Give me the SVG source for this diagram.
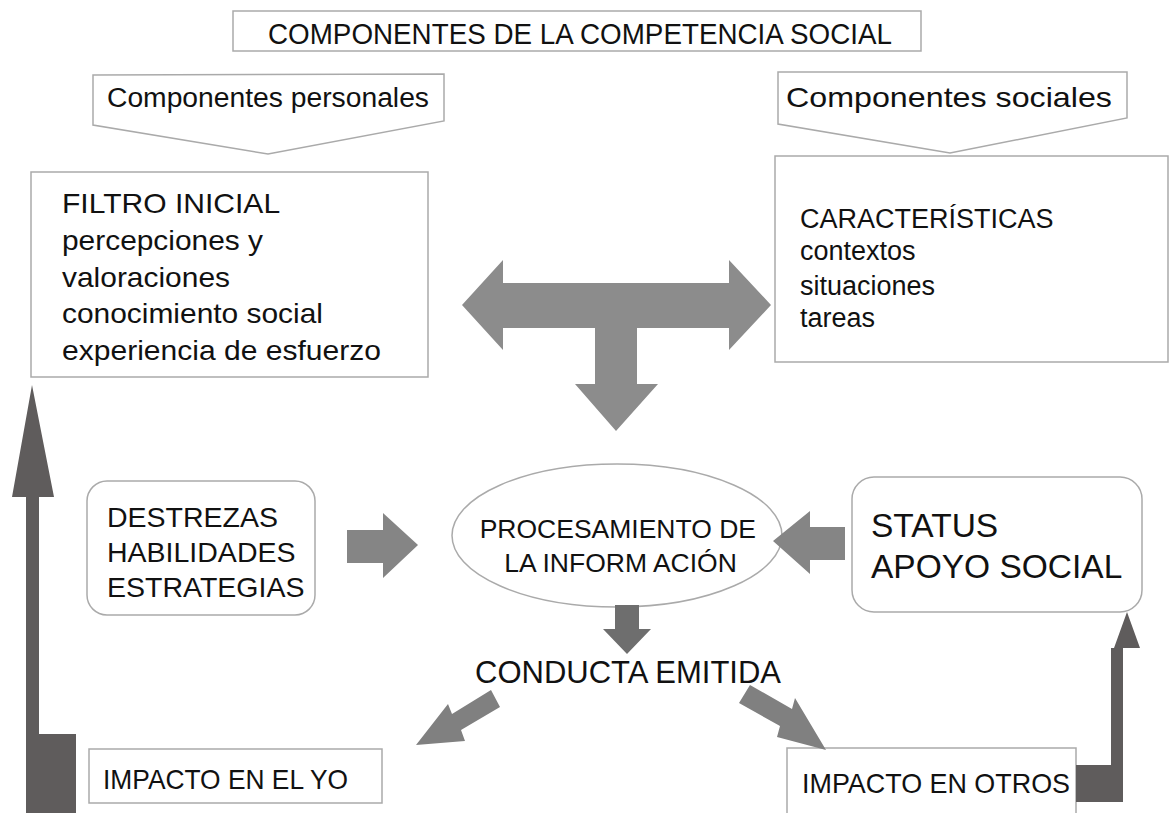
<svg xmlns="http://www.w3.org/2000/svg" width="1169" height="813" viewBox="0 0 1169 813">
<style>
.box{fill:#fff;stroke:#aaaaaa;stroke-width:1.5}
.t{font-family:"Liberation Sans",Arial,sans-serif;fill:#111}
.dark{fill:#5f5c5c}
.mid{fill:#6e6e6e}
.lite{fill:#8c8c8c}
.side{fill:#858585}
.diag{fill:#808080}
</style>
<rect width="1169" height="813" fill="#fff"/>
<g id="title">
<rect class="box" x="233" y="11" width="688" height="40"/>
<text class="t" x="268" y="44" font-size="29" textLength="624" lengthAdjust="spacingAndGlyphs">COMPONENTES DE LA COMPETENCIA SOCIAL</text>
</g>
<g id="componentes-personales">
<polygon class="box" points="93,75 444,74 444,121 268,154 93,125"/>
<text class="t" x="107" y="107" font-size="27" textLength="322" lengthAdjust="spacingAndGlyphs">Componentes personales</text>
</g>
<g id="componentes-sociales">
<polygon class="box" points="778,72 1127,72 1127,118 950,153 778,124"/>
<text class="t" x="786" y="107" font-size="28" textLength="326" lengthAdjust="spacingAndGlyphs">Componentes sociales</text>
</g>
<g id="filtro-inicial">
<rect class="box" x="31" y="172" width="397" height="205"/>
<text class="t" font-size="28.5">
<tspan x="62" y="213" textLength="217" lengthAdjust="spacingAndGlyphs">FILTRO INICIAL</tspan>
<tspan x="62" y="250" textLength="201" lengthAdjust="spacingAndGlyphs">percepciones y</tspan>
<tspan x="62" y="287" textLength="168" lengthAdjust="spacingAndGlyphs">valoraciones</tspan>
<tspan x="62" y="323" textLength="261" lengthAdjust="spacingAndGlyphs">conocimiento social</tspan>
<tspan x="62" y="360" textLength="319" lengthAdjust="spacingAndGlyphs">experiencia de esfuerzo</tspan>
</text>
</g>
<g id="caracteristicas">
<rect class="box" x="775" y="156" width="393" height="206"/>
<text class="t" font-size="27">
<tspan x="800" y="228">CARACTERÍSTICAS</tspan>
<tspan x="800" y="260">contextos</tspan>
<tspan x="800" y="295">situaciones</tspan>
<tspan x="800" y="327">tareas</tspan>
</text>
</g>
<g id="destrezas">
<rect class="box" x="87" y="481" width="228" height="134" rx="20"/>
<text class="t" font-size="28.5">
<tspan x="107" y="527">DESTREZAS</tspan>
<tspan x="107" y="562">HABILIDADES</tspan>
<tspan x="107" y="597">ESTRATEGIAS</tspan>
</text>
</g>
<g id="procesamiento">
<ellipse class="box" cx="617" cy="535.5" rx="165" ry="71.5"/>
<text class="t" font-size="26.5" text-anchor="middle">
<tspan x="621.5" y="538">PROCESAMIENTO DE</tspan>
<tspan x="620.5" y="572">LA INFORM ACIÓN</tspan>
</text>
</g>
<g id="status">
<rect class="box" x="852" y="477" width="290" height="135" rx="22"/>
<text class="t" font-size="33.5">
<tspan x="871" y="537">STATUS</tspan>
<tspan x="871" y="578">APOYO SOCIAL</tspan>
</text>
</g>
<g id="conducta">
<text class="t" x="475" y="683" font-size="31" textLength="306" lengthAdjust="spacingAndGlyphs">CONDUCTA EMITIDA</text>
</g>
<g id="impacto-yo">
<rect class="box" x="89" y="749" width="293" height="54"/>
<text class="t" x="103" y="789" font-size="28" textLength="245" lengthAdjust="spacingAndGlyphs">IMPACTO EN EL YO</text>
</g>
<g id="impacto-otros">
<rect class="box" x="787" y="748" width="289" height="70"/>
<text class="t" x="802" y="793" font-size="28" textLength="268" lengthAdjust="spacingAndGlyphs">IMPACTO EN OTROS</text>
</g>
<g id="connectors">
<polygon class="lite" points="462,305 503,260 503,283 729,283 729,260 771,305 729,350 729,328 637,328 637,384 658,384 616,431 575,384 595,384 595,328 503,328 503,350"/>
<polygon class="side" points="347,530 383,530 383,513 418,545 383,578 383,563 347,563"/>
<polygon class="side" points="845,527 810,527 810,511 773,541 810,574 810,560 845,560"/>
<polygon class="mid" points="615,605 639,605 639,629 651,629 627,654 603,629 615,629"/>
<polygon class="diag" points="491,690 452,714 448,704 416,745 465,741 461,730 500,707"/>
<polygon class="diag" points="750,685 792,709 795,698 826,750 777,737 780,726 739,703"/>
<polygon class="dark" points="26,813 26,497 12,497 32,385 54,497 39,497 39,734 76,734 76,813"/>
<polygon class="dark" points="1076,765 1111,765 1111,648 1114,648 1127,612 1140,648 1123,648 1123,802 1076,802"/>
</g>
</svg>
